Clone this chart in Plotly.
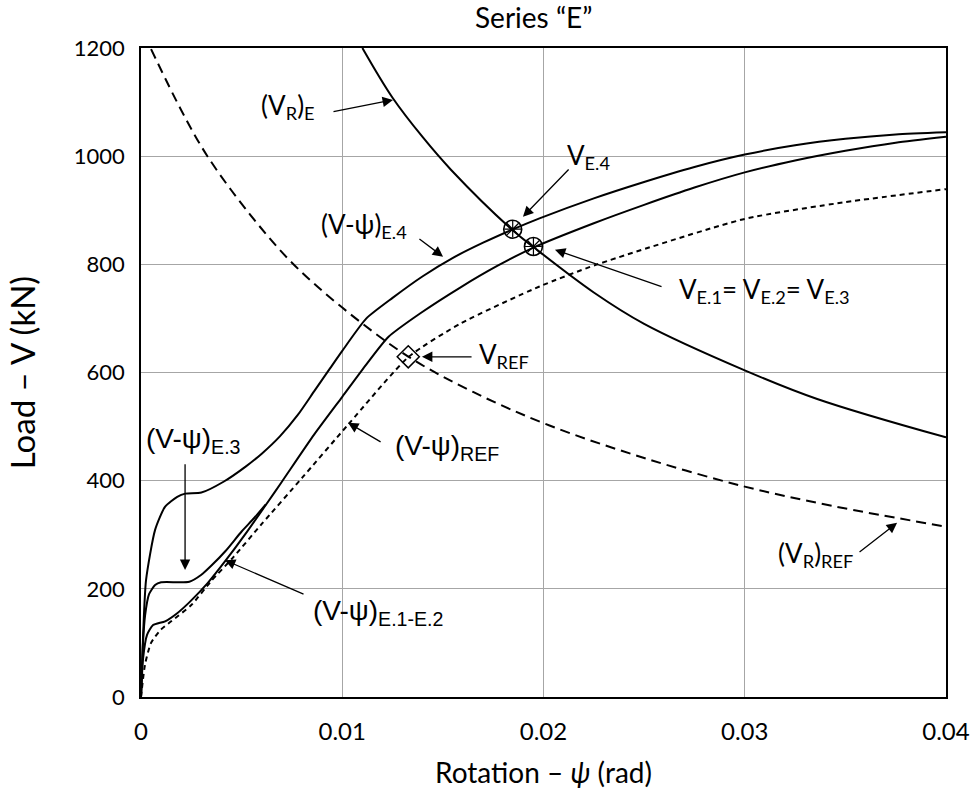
import plotly.graph_objects as go

# ---------------- data ----------------
# Failure criterion (V_R)_E  - solid
vr_e_psi = [0.0110, 0.0125, 0.0140, 0.0154, 0.0185, 0.0195, 0.0225, 0.0250, 0.0300, 0.0336, 0.0400]
vr_e_v = [1200, 1108, 1035, 975, 862, 832, 748, 690, 604, 551, 480]

# Failure criterion (V_R)_REF - dashed
vr_ref_psi = [0.0005, 0.0020, 0.0033, 0.0054, 0.0075, 0.0100, 0.0133, 0.0165, 0.0203, 0.0250, 0.0300, 0.0344, 0.0400]
vr_ref_v = [1198, 1085, 1000, 893, 803, 720, 629, 564, 502, 442, 389, 353, 315]

# Load-rotation (V-psi)_E.4 - solid
e4_psi = [0, 0.0001, 0.00025, 0.0007, 0.0012, 0.0018, 0.0022, 0.0030, 0.0041, 0.0052, 0.0060, 0.0069,
          0.0078, 0.0086, 0.0094, 0.0100, 0.0112, 0.0125, 0.0140, 0.0155, 0.0170, 0.0185, 0.0198,
          0.0225, 0.0248, 0.0275, 0.0300, 0.0325, 0.0350, 0.0375, 0.0400]
e4_v = [0, 110, 216, 309, 352, 370, 376, 378, 398, 426, 450, 482,
        522, 565, 608, 640, 700, 738, 778, 812, 840, 865, 885,
        922, 950, 980, 1003, 1020, 1032, 1040, 1044]

# Load-rotation (V-psi)_E.3 - solid (joins E.1-E.2 curve)
e3_psi = [0, 0.0001, 0.0002, 0.0004, 0.0007, 0.0010, 0.0024, 0.0030, 0.0035, 0.0042, 0.0050, 0.0056, 0.0062]
e3_v = [0, 100, 150, 190, 207, 212, 213, 226, 243, 270, 306, 330, 356]

# Load-rotation (V-psi)_E.1-E.2 (shared by E.1, E.2, E.3 beyond the join) - solid
e12_psi = [0, 0.0001, 0.0003, 0.0006, 0.0012, 0.0018, 0.0024, 0.0033, 0.0042, 0.0052, 0.0062, 0.0070, 0.0086,
           0.0100, 0.0112, 0.0123, 0.0139, 0.0159, 0.0177, 0.0195, 0.0225, 0.0250, 0.0275, 0.0300,
           0.0325, 0.0350, 0.0375, 0.0400]
e12_v = [0, 70, 115, 133, 140, 155, 175, 210, 252, 302, 355, 398, 485,
         555, 615, 666, 710, 758, 797, 831, 876, 910, 942, 970,
         992, 1010, 1025, 1036]

# Load-rotation (V-psi)_REF - short dashes
ref_psi = [0, 0.0002, 0.0005, 0.0010, 0.0015, 0.0025, 0.0035, 0.0046, 0.0060, 0.0080, 0.0103, 0.0133,
           0.0159, 0.0198, 0.0226, 0.0300, 0.0350, 0.0400]
ref_v = [0, 60, 100, 125, 140, 170, 215, 259, 320, 405, 504, 629, 691, 759, 799, 884, 915, 939]

# Intersection points
pt_e4 = (0.01847, 865)
pt_e123 = (0.0195, 833)
pt_ref = (0.01328, 629)

x_ticks = [0, 0.01, 0.02, 0.03, 0.04]
x_ticktext = ["0", "0.01", "0.02", "0.03", "0.04"]
y_ticks = [0, 200, 400, 600, 800, 1000, 1200]

# ---------------- figure ----------------
fig = go.Figure()
black = "black"

def line(x, y, dash="solid", width=2.0, smooth=0.6):
    fig.add_trace(go.Scatter(x=x, y=y, mode="lines",
                             line=dict(color=black, width=width, dash=dash, shape="spline", smoothing=smooth),
                             hoverinfo="skip"))

line(vr_ref_psi, vr_ref_v, dash="10px,6px", width=2.0, smooth=1.0)
line(ref_psi, ref_v, dash="5px,4px", width=2.0, smooth=0.6)
line(vr_e_psi, vr_e_v, width=2.0, smooth=1.0)
line(e4_psi, e4_v, width=2.0, smooth=0.6)
line(e3_psi, e3_v, width=2.0, smooth=0.6)
line(e12_psi, e12_v, width=2.0, smooth=0.6)

# markers
for p in (pt_e4, pt_e123):
    fig.add_trace(go.Scatter(x=[p[0]], y=[p[1]], mode="markers",
                             marker=dict(symbol="circle", size=18, color="rgba(255,255,255,0)",
                                         line=dict(color=black, width=1.6)), hoverinfo="skip"))
    fig.add_trace(go.Scatter(x=[p[0]], y=[p[1]], mode="markers",
                             marker=dict(symbol="asterisk-open", size=14, color=black,
                                         line=dict(color=black, width=1.2)), hoverinfo="skip"))
fig.add_trace(go.Scatter(x=[pt_ref[0]], y=[pt_ref[1]], mode="markers",
                         marker=dict(symbol="diamond-open", size=17, color=black,
                                     line=dict(color=black, width=1.5)),
                         hoverinfo="skip"))

# ---------------- labels ----------------
calib = "Lato, Carlito, Calibri, sans-serif"
arial = "Liberation Sans, Arial, sans-serif"

labels = [
    ("(V<sub>R</sub>)<sub>E</sub>", 0.0073, 1091, calib),
    ("(V-ψ)<sub>E.4</sub>", 0.01108, 871, calib),
    ("V<sub>E.4</sub>", 0.02226, 1000, calib),
    ("V<sub>E.1</sub>= V<sub>E.2</sub>= V<sub>E.3</sub>", 0.0310, 751, calib),
    ("V<sub>REF</sub>", 0.01804, 631, calib),
    ("(V-ψ)<sub>REF</sub>", 0.0152, 462, arial),
    ("(V-ψ)<sub>E.3</sub>", 0.00263, 475, arial),
    ("(V-ψ)<sub>E.1-E.2</sub>", 0.01178, 157, arial),
    ("(V<sub>R</sub>)<sub>REF</sub>", 0.0335, 263, calib),
]
for txt, x, y, fnt in labels:
    fig.add_annotation(x=x, y=y, xref="x", yref="y", text=txt, showarrow=False,
                       xanchor="center", yanchor="middle",
                       font=dict(family=fnt, size=26 if fnt == calib else 28, color=black))

# arrows: (tail_x, tail_y, tip_x, tip_y)
arrows = [
    (0.00949, 1082, 0.01252, 1104),
    (0.01376, 849, 0.01501, 814),
    (0.02132, 978, 0.01898, 888),
    (0.02594, 758, 0.02057, 827),
    (0.01650, 629, 0.01396, 629),
    (0.01198, 470, 0.01029, 507),
    (0.00219, 433, 0.00219, 235),
    (0.00815, 189, 0.00417, 253),
    (0.03563, 266, 0.03757, 322),
]
for tx, ty, hx, hy in arrows:
    fig.add_annotation(x=hx, y=hy, ax=tx, ay=ty, xref="x", yref="y", axref="x", ayref="y",
                       text="", showarrow=True, arrowhead=2, arrowsize=1.6, arrowwidth=1.3,
                       arrowcolor=black, standoff=0, startstandoff=0)

# chart title (placed as a paper annotation above the plot area)
fig.add_annotation(x=0.488, y=1 + (48 - 17) / 649, xref="paper", yref="paper",
                   text="Series “E”", showarrow=False, xanchor="center", yanchor="middle",
                   font=dict(family=calib, size=28, color=black))

fig.update_layout(
    width=979, height=800,
    margin=dict(l=141, r=33, t=48, b=103, autoexpand=False),
    plot_bgcolor="white", paper_bgcolor="white",
    showlegend=False,
)
fig.update_xaxes(range=[0, 0.04], tickvals=x_ticks, ticktext=x_ticktext,
                 showgrid=True, gridcolor="#a6a6a6", gridwidth=1.2,
                 showline=True, linecolor=black, linewidth=1.6, mirror=True, zeroline=False,
                 ticks="", ticklabelstandoff=12, automargin=False,
                 tickfont=dict(family=calib, size=24, color=black),
                 title=dict(text="Rotation – <i>ψ</i> (rad)", standoff=20,
                            font=dict(family=calib, size=28, color=black)))
fig.update_yaxes(range=[0, 1200], tickvals=y_ticks,
                 showgrid=True, gridcolor="#a6a6a6", gridwidth=1.2,
                 showline=True, linecolor=black, linewidth=1.6, mirror=True, zeroline=False,
                 ticks="", ticklabelstandoff=10, automargin=False,
                 tickfont=dict(family=calib, size=22, color=black),
                 title=dict(text="Load – V (kN)", standoff=28,
                            font=dict(family=calib, size=33, color=black)))

fig.write_html("out.html", config={"displayModeBar": False},
               post_script="document.body.style.margin='0px';")
